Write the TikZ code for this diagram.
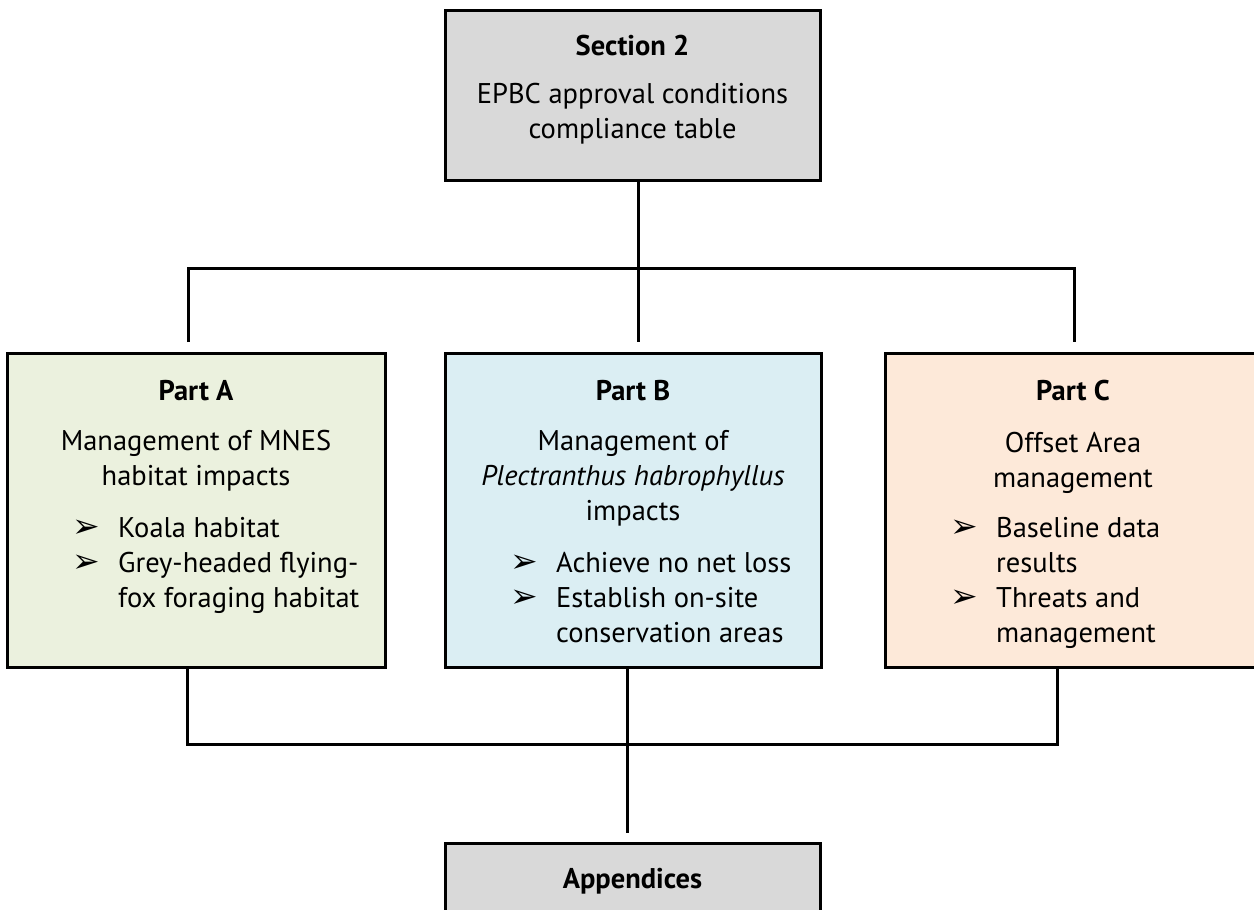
\documentclass[tikz,border=0pt]{standalone}
\usepackage{fontspec}
\setmainfont{PT Sans}
\newfontfamily\symfont{DejaVu Sans}

\definecolor{secgray}{HTML}{D9D9D9}
\definecolor{partAgreen}{HTML}{EBF1DE}
\definecolor{partBblue}{HTML}{DBEEF3}
\definecolor{partCpeach}{HTML}{FDE9D9}

% arrow bullet of the lists
\newcommand{\arrowbul}{\makebox[46pt][l]{\fontsize{33}{35}\symfont\char"27A2}}

\begin{document}
\begin{tikzpicture}[x=1pt, y=-1pt,
    box/.style={draw=black, line width=3pt, inner sep=0pt},
    link/.style={draw=black, line width=3pt},
    head/.style={anchor=base, inner sep=0pt, font=\fontsize{28.5}{35}\selectfont\bfseries},
    body/.style={anchor=base, inner sep=0pt, font=\fontsize{28.5}{35}\selectfont},
    items/.style={anchor=base west, inner sep=0pt, font=\fontsize{28.5}{35}\selectfont}]

    % Page size of the picture
    \useasboundingbox (0,0) rectangle (1254,910);
    \clip (0,0) rectangle (1254,910);

    % Draw the boxes
    \node[box, fill=secgray, minimum width=375pt, minimum height=170pt] (sec) at (632.5,95) {};
    \node[box, fill=partAgreen, minimum width=378pt, minimum height=314pt] (partA) at (196,510) {};
    \node[box, fill=partBblue, minimum width=376pt, minimum height=314pt] (partB) at (633,510) {};
    \node[box, fill=partCpeach, minimum width=376pt, minimum height=314pt] (partC) at (1073,510) {};
    \node[box, fill=secgray, minimum width=375pt, minimum height=150pt] (app) at (632.5,918) {};

    % Section 2
    \node[head] (sec-head) at (632.5,55) {Section 2};
    \node[body] (sec-body) at (632.5,103) {\begin{tabular}[t]{@{}c@{}}
        EPBC approval conditions\\compliance table\end{tabular}};

    % Part A
    \node[head] (partA-head) at (196,400) {Part A};
    \node[body] (partA-body) at (196,450) {\begin{tabular}[t]{@{}c@{}}
        Management of MNES\\habitat impacts\end{tabular}};
    \node[items] (partA-list) at (72,537) {\begin{tabular}[t]{@{}l@{}}
        \arrowbul Koala habitat\\
        \arrowbul Grey-headed flying-\\
        \hspace{46pt}fox foraging habitat
      \end{tabular}};

    % Part B
    \node[head] (partB-head) at (633,400) {Part B};
    \node[body] (partB-body) at (633,450) {\begin{tabular}[t]{@{}c@{}}
        Management of\\\textit{Plectranthus habrophyllus}\\impacts\end{tabular}};
    \node[items] (partB-list) at (510,572) {\begin{tabular}[t]{@{}l@{}}
        \arrowbul Achieve no net loss\\
        \arrowbul Establish on-site\\
        \hspace{46pt}conservation areas
      \end{tabular}};

    % Part C
    \node[head] (partC-head) at (1073,400) {Part C};
    \node[body] (partC-body) at (1073,452) {\begin{tabular}[t]{@{}c@{}}
        Offset Area\\management\end{tabular}};
    \node[items] (partC-list) at (950,537) {\begin{tabular}[t]{@{}l@{}}
        \arrowbul Baseline data\\
        \hspace{46pt}results\\
        \arrowbul Threats and\\
        \hspace{46pt}management
      \end{tabular}};

    % Appendices
    \node[head] (app-head) at (632.5,888) {Appendices};

    % Connectors from Section 2 to the parts
    \coordinate (bar) at (0,268);
    \coordinate (inA) at (188,342);
    \coordinate (inB) at (638,342);
    \coordinate (inC) at (1074,342);
    \draw[link] (sec.south -| inB) -- (inB);
    \draw[link] (inA) -- (inA |- bar) -- (inC |- bar) -- (inC);

    % Connectors from the parts to the appendices
    \coordinate (outA) at (187,744);
    \coordinate (outB) at (627,744);
    \coordinate (outC) at (1057,744);
    \coordinate (inApp) at (627,833);
    \draw[link] (partA.south -| outA) -- (outA) -- (outC) -- (partC.south -| outC);
    \draw[link] (partB.south -| outB) -- (inApp);

\end{tikzpicture}
\end{document}
